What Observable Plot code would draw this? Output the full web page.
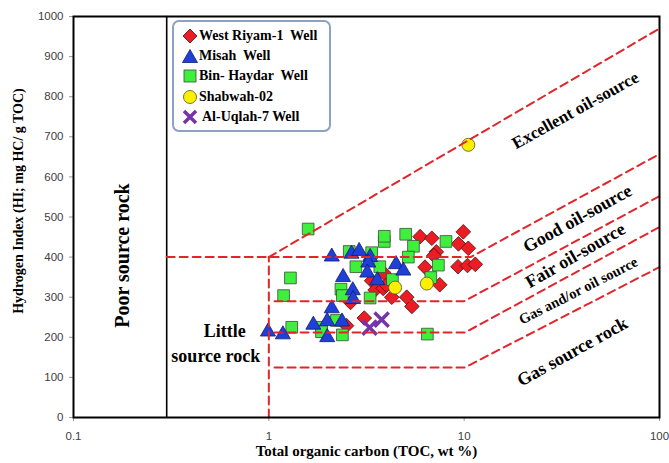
<!DOCTYPE html>
<html><head><meta charset="utf-8">
<script src="https://cdn.jsdelivr.net/npm/d3@7"></script>
<script src="https://cdn.jsdelivr.net/npm/@observablehq/plot@0.6"></script>
<style>
body{margin:0;background:#fff;}
#wrap{position:relative;width:669px;height:463px;}
#wrap svg{overflow:visible;}
#legend{position:absolute;left:172px;top:20px;width:159px;height:112px;border:2px solid #8da2c2;border-radius:7px;background:#fff;box-sizing:border-box;padding-top:4px;}
.row{display:flex;align-items:center;height:20.2px;font:bold 14px "Liberation Serif",serif;color:#000;white-space:pre;}
.row svg{margin-left:8px;margin-right:1px;flex:none;}
</style></head><body><div id="wrap"></div>
<script>
// ---- data (TOC wt%, HI mg HC/g TOC) ----
const westRiyam = [[5.95,451],[6.83,447],[9.9,463],[9.35,433],[10.5,422],[7.2,413],[7.0,404],[6.3,375],[9.3,376],[10.4,379],[11.4,382],[7.5,331],[3.36,341],[3.5,318],[3.85,322],[4.26,300],[5.08,300],[5.4,277],[2.62,287],[3.08,248],[2.5,229],[3.89,360],[4.0,330]];
const misah = [[2.10,401],[2.65,408],[2.90,415],[3.30,400],[3.23,386],[4.48,382],[4.88,366],[3.19,361],[2.40,350],[3.59,342],[2.69,317],[2.70,295],[2.10,272],[1.69,231],[1.99,240],[2.37,239],[1.99,200],[0.99,214],[1.18,207]];
const binHaydar = [[1.59,470],[3.90,439],[3.90,452],[5.02,457],[5.50,427],[8.07,439],[2.58,414],[3.36,411],[2.79,376],[3.70,376],[5.18,400],[7.38,380],[6.75,349],[4.29,344],[1.29,348],[1.19,304],[2.34,320],[2.38,304],[3.30,298],[1.31,225],[1.86,225],[1.86,214],[2.22,242],[2.38,206],[6.48,208]];
const shabwah = [[4.43,324],[6.44,334],[10.5,680]];
const alUqlah = [[3.28,224],[3.78,244]];

const seriesNames = ["West Riyam-1  Well","Misah  Well","Bin- Haydar  Well","Shabwah-02","Al-Uqlah-7 Well"];

// classification boundaries
const poorLimit = [[0.3,0],[0.3,1000]];
const littleLimit = [[1,0],[1,400]];
const excellentLine = [[1,400],[100,970]];
const goodLine = [[0.3,400],[10.8,400],[100,657]];
const fairLine = [[1.07,290],[10,290],[100,552]];
const gasOilLine = [[1.07,212],[10.1,212],[100,475]];
const gasLine = [[1.07,125],[10.1,125],[100,375]];

const xTicks = [0.1,1,10,100];
const yTicks = d3.range(0,1001,100);

// zone labels [TOC, HI, text, rotate, size]
const zoneLabels = [
  [37.1,766,"Excellent oil-source",-29,17],
  [38,496,"Good oil-source",-29,18],
  [37.1,404,"Fair oil-source",-30,18],
  [38.4,316,"Gas and/or oil source",-27,14.5],
  [35.8,164,"Gas source rock",-29,18]
];
const sideLabels = [
  [0.178,404,"Poor source rock",-90,20],
  [0.594,216,"Little",0,18],
  [0.535,154,"source rock",0,18]
];

const serif = "'Liberation Serif', 'Times New Roman', serif";
const dashStyle = {x: d=>d[0], y: d=>d[1], stroke:"#e0262b", strokeWidth:2, strokeDasharray:"8,5"};

const chart = Plot.plot({
  width: 669, height: 463,
  marginLeft: 73, marginRight: 10, marginTop: 16, marginBottom: 46,
  x: {type:"log", domain:[0.1,100]},
  y: {domain:[0,1000]},
  style: {background:"white", fontFamily:"'Liberation Sans', sans-serif"},
  marks: [
    Plot.axisY({ticks:yTicks, tickSize:4, tickPadding:6, label:null, fontSize:11.5, fill:"#404040", stroke:"#999", tickFormat: d => String(d)}),
    Plot.axisX({ticks:xTicks, tickSize:4, tickPadding:10, label:null, fontSize:11.5, fill:"#404040", stroke:"#999", tickFormat: d => String(d)}),
    Plot.text(["Hydrogen Index (HI; mg HC/ g TOC)"], {frameAnchor:"left", textAnchor:"middle", dx:-55, dy:-16, rotate:-90, fontFamily:serif, fontWeight:"bold", fontSize:14, fill:"#000"}),
    Plot.text(["Total organic carbon (TOC, wt %)"], {frameAnchor:"bottom", textAnchor:"middle", dy:38, fontFamily:serif, fontWeight:"bold", fontSize:15, fill:"#000"}),
    Plot.line(poorLimit, {x:d=>d[0], y:d=>d[1], stroke:"#000", strokeWidth:1.6}),
    Plot.dot(westRiyam, {x:d=>d[0], y:d=>d[1], symbol:"diamond2", r:6.6, fill:"#ec1c24", stroke:"#4a1010", strokeWidth:0.8}),
    Plot.dot(binHaydar, {x:d=>d[0], y:d=>d[1], symbol:"square", r:6.6, fill:"#3ef03c", stroke:"#3a4a3a", strokeWidth:0.8}),
    Plot.dot(misah, {x:d=>d[0], y:d=>d[1], symbol:"triangle", r:5.6, fill:"#1f3fd8", stroke:"#10206a", strokeWidth:0.8}),
    Plot.dot(shabwah, {x:d=>d[0], y:d=>d[1], symbol:"circle", r:6.5, fill:"#fbf000", stroke:"#5a5020", strokeWidth:0.8}),
    Plot.dot(alUqlah, {x:d=>d[0], y:d=>d[1], symbol:"times", r:6.5, stroke:"#7535a8", strokeWidth:3.5}),
    Plot.line(littleLimit, dashStyle),
    Plot.line(excellentLine, dashStyle),
    Plot.line(goodLine, dashStyle),
    Plot.line(fairLine, dashStyle),
    Plot.line(gasOilLine, dashStyle),
    Plot.line(gasLine, dashStyle),
    Plot.text(zoneLabels, {x:d=>d[0], y:d=>d[1], text:d=>d[2], rotate:d=>d[3], fontSize:d=>d[4], fontFamily:serif, fontWeight:"bold", fill:"#000"}),
    Plot.text(sideLabels, {x:d=>d[0], y:d=>d[1], text:d=>d[2], rotate:d=>d[3], fontSize:d=>d[4], fontFamily:serif, fontWeight:"bold", fill:"#000"}),
    Plot.frame({stroke:"#000", strokeWidth:2})
  ]
});
const wrap = document.getElementById("wrap");
wrap.appendChild(chart);

// legend
const icons = [
  '<polygon points="8,1 15,8 8,15 1,8" fill="#ec1c24" stroke="#4a1010" stroke-width="0.8"/>',
  '<polygon points="8,1.5 15.5,14.5 0.5,14.5" fill="#1f3fd8" stroke="#10206a" stroke-width="0.8"/>',
  '<rect x="2" y="2" width="12" height="12" fill="#3ef03c" stroke="#3a4a3a" stroke-width="0.8"/>',
  '<circle cx="8" cy="8" r="6.5" fill="#fbf000" stroke="#5a5020" stroke-width="0.8"/>',
  '<path d="M2,2L14,14M14,2L2,14" stroke="#7535a8" stroke-width="3.5"/>'
];
const legend = document.createElement("div");
legend.id = "legend";
seriesNames.forEach((name,i) => {
  const row = document.createElement("div");
  row.className = "row";
  row.innerHTML = `<svg width="16" height="16" viewBox="0 0 16 16">${icons[i]}</svg>`;
  const span = document.createElement("span");
  span.textContent = name;
  if (i === 4) span.style.marginLeft = "3px";
  row.appendChild(span);
  legend.appendChild(row);
});
wrap.appendChild(legend);
</script></body></html>
